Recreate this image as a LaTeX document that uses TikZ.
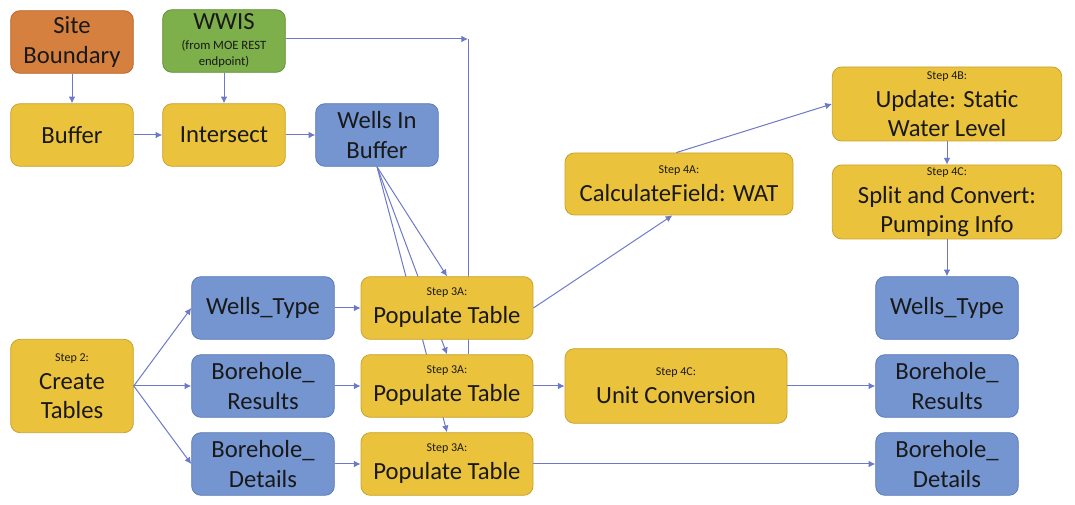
\documentclass[tikz,border=0pt]{standalone}
\usepackage{fontspec}
\setmainfont{Carlito}
\usetikzlibrary{arrows.meta,positioning,backgrounds}
\definecolor{ouro}{HTML}{EBC23B}
\definecolor{ourolinha}{HTML}{C9A22E}
\definecolor{azul}{HTML}{7495D0}
\definecolor{azullinha}{HTML}{5A7BB8}
\definecolor{laranja}{HTML}{D6803F}
\definecolor{laranjalinha}{HTML}{B5682F}
\definecolor{verde}{HTML}{7DAF4A}
\definecolor{verdelinha}{HTML}{628F38}
\definecolor{seta}{HTML}{6C79C8}
\newcommand{\passo}[1]{{\fontsize{9}{10}\selectfont Step #1:}\\[-1pt]}

\begin{document}
\begin{tikzpicture}[x=0.75pt,y=-0.75pt,
  base/.style={rounded corners=7pt, align=center, inner sep=0pt,
               line width=0.6pt, text=black!90,
               font=\fontsize{18.5}{22}\selectfont},
  proc/.style={base, draw=ourolinha, fill=ouro},
  tabela/.style={base, draw=azullinha, fill=azul},
  fonte/.style={base, draw=laranjalinha, fill=laranja},
  servico/.style={base, draw=verdelinha, fill=verde},
  curta/.style={minimum width=92pt, minimum height=47pt},
  media/.style={minimum width=107pt, minimum height=47pt},
  longa/.style={minimum width=129pt, minimum height=47pt},
  larga/.style={minimum width=172pt, minimum height=55.5pt},
  linha/.style={draw=seta, line width=0.75pt},
  conn/.style={linha, -{Latex[length=5pt,width=5pt]}}
]
\useasboundingbox (0,0) rectangle (1075,505);

% top row
\node[fonte, curta]   (site)     at (72,42)   {Site\\Boundary};
\node[servico, curta] (wwis)     at (224,41)  {WWIS\\[-7pt]{\fontsize{9.5}{14}\selectfont (from MOE REST}\\[-10pt]{\fontsize{9.5}{14}\selectfont endpoint)}};
\node[proc, curta]    (buffer)   at (72,135)  {Buffer};
\node[proc, curta]    (intersect) at (224,135) {Intersect};
\node[tabela, curta]  (wellsbuf) at (377,135) {Wells In\\Buffer};

% step 2 and tables
\node[proc, curta, minimum height=70pt] (create) at (72,386) {\passo{2}Create\\Tables};
\node[tabela, media] (wtype)  at (263,308) {Wells\_Type};
\node[tabela, media] (bhres)  at (263,386) {Borehole\_\\Results};
\node[tabela, media] (bhdet)  at (263,464) {Borehole\_\\Details};

% step 3A
\node[proc, longa] (pop1) at (447,308) {\passo{3A}Populate Table};
\node[proc, longa] (pop2) at (447,386) {\passo{3A}Populate Table};
\node[proc, longa] (pop3) at (447,464) {\passo{3A}Populate Table};

% step 4
\node[proc, minimum width=171pt, minimum height=46.5pt] (calc) at (679,184) {\passo{4A}CalculateField: WAT};
\node[proc, larga] (update) at (947,104) {\passo{4B}Update: Static\\Water Level};
\node[proc, larga] (split)  at (947,202) {\passo{4C}Split and Convert:\\Pumping Info};
\node[proc, minimum width=166.5pt, minimum height=56pt] (unit) at (676,386) {\passo{4C}Unit Conversion};

% outputs
\node[tabela, media] (wtype2) at (947,308) {Wells\_Type};
\node[tabela, media] (bhres2) at (947,386) {Borehole\_\\Results};
\node[tabela, media] (bhdet2) at (947,464) {Borehole\_\\Details};

\coordinate (knick) at (468,39);

\begin{scope}[on background layer]
\foreach \p in {pop1,pop2,pop3}
  \draw[conn] (wellsbuf.south) -- (\p.north);
\draw[linha] (knick) -- (knick |- pop2.north);
\end{scope}

\draw[conn] (site) -- (buffer);
\draw[conn] (wwis) -- (intersect);
\draw[conn] (buffer) -- (intersect);
\draw[conn] (intersect) -- (wellsbuf);
\draw[conn] (wwis.east |- knick) -- (knick);

\foreach \t in {wtype,bhres,bhdet}
  \draw[conn] (create.east) -- (\t.west);
\draw[conn] (wtype) -- (pop1);
\draw[conn] (bhres) -- (pop2);
\draw[conn] (bhdet) -- (pop3);

\draw[conn] (pop1.east) -- ([xshift=-5]calc.south);
\draw[conn] ([xshift=-2]calc.north) -- (update.west);
\draw[conn] (update) -- (split);
\draw[conn] (split) -- (wtype2);
\draw[conn] (pop2) -- (unit);
\draw[conn] (unit) -- (bhres2);
\draw[conn] (pop3) -- (bhdet2);
\end{tikzpicture}
\end{document}
